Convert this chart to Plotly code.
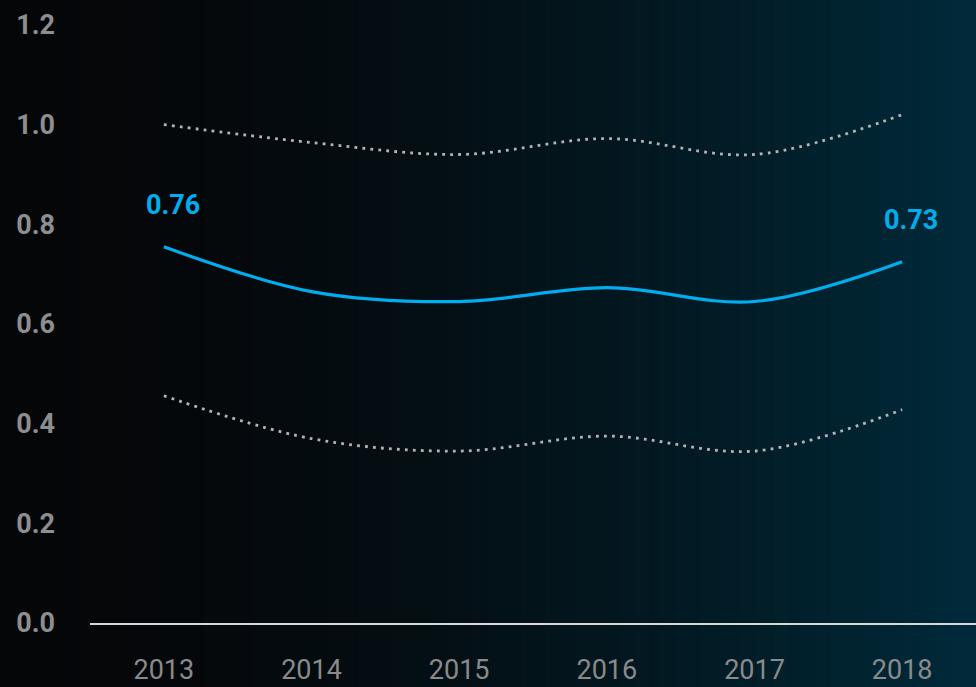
import plotly.graph_objects as go

years = [2013, 2014, 2015, 2016, 2017, 2018]
central = [0.755, 0.665, 0.645, 0.673, 0.645, 0.725]
upper = [1.0, 0.964, 0.94, 0.972, 0.94, 1.02]
lower = [0.456, 0.37, 0.345, 0.375, 0.345, 0.428]
label_text = ["0.76", "", "", "", "", "0.73"]
y_ticks = [0.0, 0.2, 0.4, 0.6, 0.8, 1.0, 1.2]

W, H = 976, 687
L, R, T, B = 90, 0, 0, 64

fig = go.Figure()

dot_gray = "#b4b4b4"
blue = "#00aeef"

fig.add_trace(go.Scatter(x=years, y=upper, mode="lines", line=dict(color=dot_gray, width=2.8, dash="2.8px,5.2px", shape="spline", smoothing=1.0), hoverinfo="skip"))
fig.add_trace(go.Scatter(x=years, y=lower, mode="lines", line=dict(color=dot_gray, width=2.8, dash="2.8px,5.2px", shape="spline", smoothing=1.0), hoverinfo="skip"))
fig.add_trace(go.Scatter(x=years, y=central, mode="lines", line=dict(color=blue, width=3.2, shape="spline", smoothing=1.0)))

# value labels for first and last
for i in (0, len(years) - 1):
    fig.add_annotation(x=years[i], y=central[i], text=label_text[i], showarrow=False,
                       xshift=9, yshift=42, font=dict(family="Roboto", size=27, color=blue, weight="bold"))

# gradient background via strips
N = 120
pw = W - L - R
ph = H - T - B
for k in range(N):
    t = k / (N - 1)
    f = t ** 1.7
    r = round(5 + (0 - 5) * f)
    g = round(6 + (42 - 6) * f)
    b = round(8 + (58 - 8) * f)
    x0p = k * W / N
    x1p = (k + 1) * W / N + 1
    fig.add_shape(type="rect", xref="paper", yref="paper",
                  x0=(x0p - L) / pw, x1=(x1p - L) / pw, y0=-(B + 2) / ph, y1=1 + (T + 2) / ph,
                  fillcolor=f"rgb({r},{g},{b})", line=dict(width=0), layer="below")

fig.update_layout(
    width=W, height=H,
    margin=dict(l=L, r=R, t=T, b=B),
    paper_bgcolor="#050608", plot_bgcolor="rgba(0,0,0,0)",
    showlegend=False,
    xaxis=dict(range=[2012.5, 2018.5], tickvals=years, ticktext=[str(y) for y in years],
               showgrid=False, zeroline=False, showline=True, linecolor="#d8d8d8", linewidth=2,
               ticks="", ticklabelstandoff=22, automargin=False,
               tickfont=dict(family="Roboto", size=27, color="#8a8a8a")),
    yaxis=dict(range=[0, 1.25], tickvals=y_ticks, tickformat=".1f",
               showgrid=False, zeroline=False, showline=False, ticks="",
               ticklabelstandoff=34, automargin=False,
               tickfont=dict(family="Roboto", size=27, color="#8e8e8e", weight="bold")),
)

fig.write_html("out.html", config={"displayModeBar": False},
               post_script="document.body.style.margin='0';document.body.style.padding='0';document.body.style.background='#050608';")
